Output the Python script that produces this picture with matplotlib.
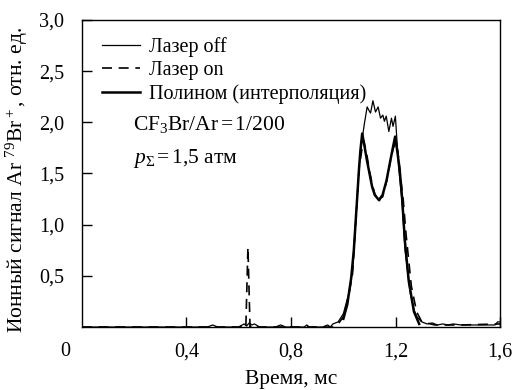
import matplotlib
matplotlib.use("Agg")
import matplotlib.pyplot as plt
from matplotlib.lines import Line2D

# Данные
t_off = [0.0, 0.48, 0.50, 0.52, 0.60, 0.62, 0.63, 0.64, 0.65, 0.66, 0.68,
         0.74, 0.76, 0.78, 0.85, 0.86, 0.87, 0.92, 0.94, 0.95, 0.96, 0.98,
         1.00, 1.02, 1.035, 1.05, 1.06, 1.07, 1.08, 1.091, 1.097, 1.104,
         1.113, 1.123, 1.133, 1.142, 1.151, 1.157, 1.164, 1.174, 1.184,
         1.19, 1.199, 1.206, 1.211, 1.224, 1.236, 1.256, 1.27, 1.281, 1.30,
         1.32, 1.34, 1.36, 1.38, 1.40, 1.42, 1.45, 1.50, 1.58, 1.59, 1.60]
v_off = [0.0, 0.0, 0.02, 0.0, 0.0, 0.03, 0.01, 0.04, 0.02, 0.03, 0.0,
         0.0, 0.02, 0.0, 0.0, 0.02, 0.0, 0.0, 0.02, 0.0, 0.03, 0.05,
         0.13, 0.32, 0.55, 1.15, 1.55, 1.80, 1.98, 2.15, 2.12, 2.09,
         2.21, 2.10, 2.15, 2.04, 2.07, 2.01, 2.06, 1.91, 2.04,
         1.96, 2.06, 1.78, 1.57, 1.24, 0.75, 0.33, 0.17, 0.10, 0.05,
         0.03, 0.04, 0.02, 0.03, 0.02, 0.03, 0.02, 0.02, 0.02, 0.05, 0.05]

t_on = [0.0, 0.60, 0.62, 0.627, 0.635, 0.643, 0.65, 0.66, 0.70, 0.96, 0.98,
        1.00, 1.02, 1.035, 1.05, 1.06, 1.07, 1.078, 1.09, 1.10, 1.11, 1.12,
        1.127, 1.135, 1.142, 1.15, 1.165, 1.18, 1.19, 1.20, 1.208, 1.217,
        1.229, 1.24, 1.26, 1.28, 1.30, 1.35, 1.45, 1.60]
v_on = [0.0, 0.0, 0.02, 0.0, 0.78, 0.0, 0.02, 0.0, 0.0, 0.0, 0.03,
        0.10, 0.30, 0.52, 1.12, 1.55, 1.72, 1.82, 1.68, 1.52, 1.40, 1.30,
        1.27, 1.22, 1.26, 1.27, 1.42, 1.62, 1.74, 1.80, 1.72, 1.50,
        1.24, 0.90, 0.40, 0.15, 0.05, 0.02, 0.02, 0.03]

t_poly = [1.00, 1.015, 1.03, 1.04, 1.05, 1.06, 1.065, 1.072, 1.08, 1.09,
          1.10, 1.11, 1.12, 1.136, 1.15, 1.165, 1.18, 1.19, 1.198, 1.205,
          1.215, 1.225, 1.235, 1.25, 1.27, 1.29]
v_poly = [0.08, 0.22, 0.48, 0.75, 1.15, 1.55, 1.72, 1.89, 1.78, 1.63,
          1.50, 1.37, 1.29, 1.24, 1.29, 1.43, 1.63, 1.76, 1.86, 1.74,
          1.55, 1.25, 0.85, 0.45, 0.15, 0.03]

x_ticks = [0.4, 0.8, 1.2, 1.6]
x_labels = ["0,4", "0,8", "1,2", "1,6"]
y_ticks = [0.5, 1.0, 1.5, 2.0, 2.5, 3.0]
y_labels = ["0,5", "1,0", "1,5", "2,0", "2,5", "3,0"]

plt.rcParams["font.family"] = ["Liberation Serif", "DejaVu Serif"]
plt.rcParams["mathtext.fontset"] = "custom"
plt.rcParams["mathtext.rm"] = "Liberation Serif"
plt.rcParams["mathtext.it"] = "Liberation Serif:italic"

fig = plt.figure(figsize=(5.12, 3.9), dpi=100)
ax = fig.add_axes([0.160, 0.1615, 0.817, 0.7875])

ax.plot(t_off, v_off, color="black", lw=0.9)
ax.plot(t_on, v_on, color="black", lw=1.2, dashes=(6, 4))
ax.plot(t_poly, v_poly, color="black", lw=1.8)

ax.set_xlim(0, 1.6)
ax.set_ylim(0, 3.0)
ax.set_xticks(x_ticks)
ax.set_xticklabels(x_labels)
ax.set_yticks(y_ticks)
ax.set_yticklabels(y_labels)
ax.tick_params(axis="x", direction="in", length=7, width=1, labelsize=14.5, pad=11)
ax.tick_params(axis="y", direction="in", length=7, width=1, labelsize=14.5, pad=13)
for s in ax.spines.values():
    s.set_linewidth(1)

# общий ноль в углу
ax.text(-0.041, -0.081, "0", transform=ax.transAxes, ha="center", va="center",
        fontsize=14.5)

ax.set_xlabel("Время, мс", fontsize=15.5)
ax.xaxis.set_label_coords(0.5, -0.14)
ax.set_ylabel("Ионный сигнал Ar $^{79}$Br$^+$, отн. ед.", fontsize=15.5)
ax.yaxis.set_label_coords(-0.124, 0.48)

handles = [Line2D([], [], color="black", lw=0.9),
           Line2D([], [], color="black", lw=1.2, dashes=(6, 4)),
           Line2D([], [], color="black", lw=1.8)]
ax.legend(handles, ["Лазер off", "Лазер on", "Полином (интерполяция)"],
          loc="upper left", bbox_to_anchor=(0.015, 0.99), frameon=False,
          fontsize=14.5, handlelength=1.85, handletextpad=0.45,
          labelspacing=0.2, borderaxespad=0.3)

ax.text(0.122, 0.66, "CF$_3$Br/Ar$\\,$=$\\,$1/200", transform=ax.transAxes,
        fontsize=15.5, va="center")
ax.text(0.122, 0.55, "$p_\\Sigma$$\\,$=$\\,$1,5 атм", transform=ax.transAxes,
        fontsize=15.5, va="center")

fig.savefig("out.png", dpi=100)
